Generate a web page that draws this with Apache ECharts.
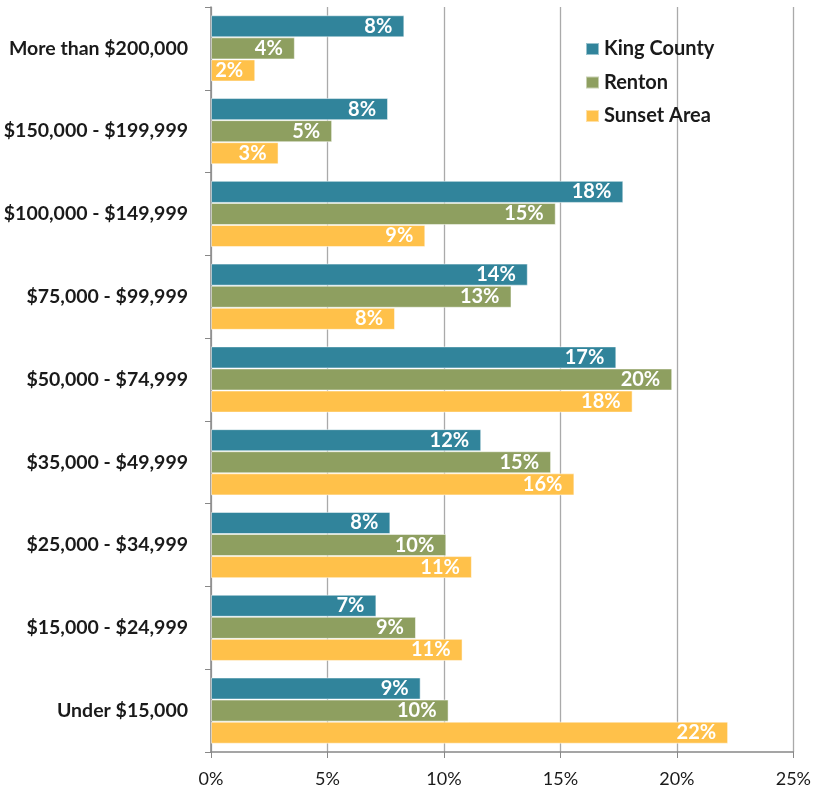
<!DOCTYPE html>
<html>
<head>
<meta charset="utf-8">
<script src="https://cdn.jsdelivr.net/npm/echarts@6/dist/echarts.min.js"></script>
<style>html,body{margin:0;padding:0;background:#fff}#c{width:814px;height:792px}</style>
</head>
<body>
<div id="c"></div>
<script>
const categories = ["More than $200,000","$150,000 - $199,999","$100,000 - $149,999","$75,000 - $99,999","$50,000 - $74,999","$35,000 - $49,999","$25,000 - $34,999","$15,000 - $24,999","Under $15,000"];
const kingCounty = [8.3, 7.6, 17.7, 13.6, 17.4, 11.6, 7.7, 7.1, 9.0];
const renton = [3.6, 5.2, 14.8, 12.9, 19.8, 14.6, 10.1, 8.8, 10.2];
const sunsetArea = [1.9, 2.9, 9.2, 7.9, 18.1, 15.6, 11.2, 10.8, 22.2];
const xTicks = [0, 5, 10, 15, 20, 25];

const FONT = 'Lato';
const chart = echarts.init(document.getElementById('c'));
function mk(name, data, color) {
  return {
    name, type: 'bar', data,
    barGap: '0%', barCategoryGap: '20%',
    itemStyle: { color, borderColor: 'rgba(255,255,255,0.5)', borderWidth: 1 },
    label: { show: true, position: 'insideRight', distance: 12, color: '#fff', fontFamily: FONT, fontWeight: 'bold', fontSize: 20,
      formatter: p => Math.round(p.value) + '%' },
    emphasis: { disabled: true }
  };
}
chart.setOption({
  animation: false,
  textStyle: { fontFamily: FONT },
  grid: { left: 211, right: 18, top: 7, bottom: 40, containLabel: false },
  legend: {
    orient: 'vertical', left: 580, top: 34, itemWidth: 13, itemHeight: 12, itemGap: 13.5,
    icon: 'rect',
    data: ['King County', 'Renton', 'Sunset Area'],
    textStyle: { fontFamily: FONT, fontWeight: 'bold', fontSize: 20, color: '#1a1a1a', lineHeight: 20, padding: [0, 0, 0, 0] }
  },
  xAxis: {
    type: 'value', min: xTicks[0], max: xTicks[xTicks.length - 1], interval: 5,
    axisLine: { show: true, lineStyle: { color: '#888', width: 1.5 } },
    axisTick: { show: true, length: 6, lineStyle: { color: '#888' } },
    splitLine: { show: true, lineStyle: { color: '#aaa', width: 1.3 } },
    axisLabel: { formatter: v => v + '%', color: '#1a1a1a', fontSize: 18, fontFamily: FONT, margin: 18 }
  },
  yAxis: {
    type: 'category', data: categories, inverse: true,
    axisLine: { show: true, lineStyle: { color: '#888', width: 1.5 } },
    axisTick: { show: true, length: 6, lineStyle: { color: '#888' } },
    axisLabel: { color: '#1a1a1a', fontSize: 19.5, fontWeight: 'bold', fontFamily: FONT, margin: 23 }
  },
  series: [
    mk('King County', kingCounty, '#31849B'),
    mk('Renton', renton, '#8E9F60'),
    mk('Sunset Area', sunsetArea, '#FFC14A')
  ]
});
</script>
</body>
</html>
